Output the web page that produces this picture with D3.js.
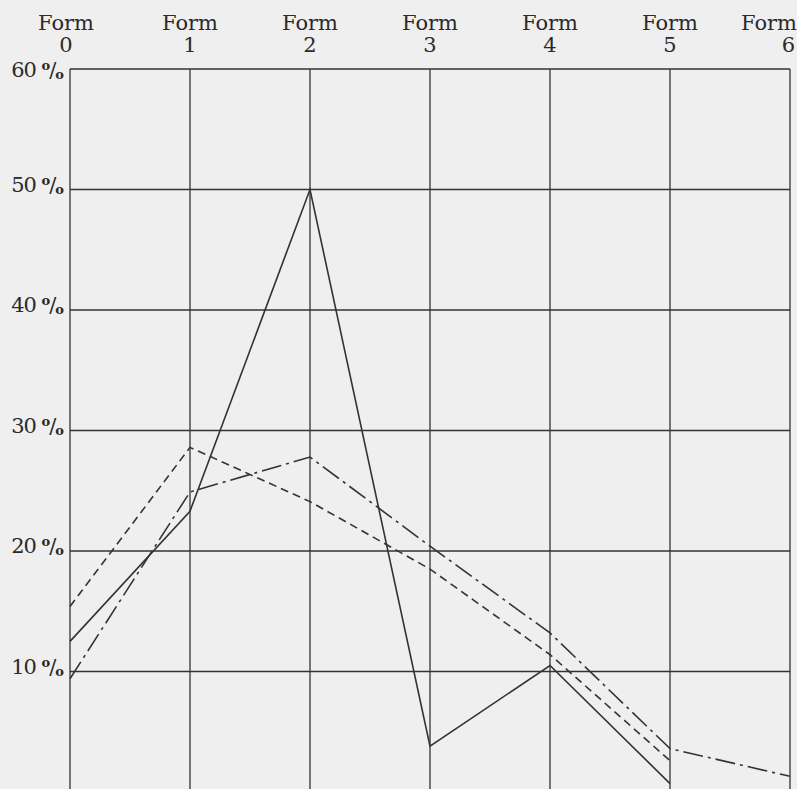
<!DOCTYPE html>
<html>
<head>
<meta charset="utf-8">
<script src="https://cdn.jsdelivr.net/npm/d3@7"></script>
<style>
  body { margin: 0; background: #efefef; }
  svg { display: block; }
</style>
</head>
<body>
<div id="vis"></div>
<script>
// data (percent per form)
const forms = [0, 1, 2, 3, 4, 5, 6]
const yTicks = [10, 20, 30, 40, 50, 60]
const solidValues = [12.5, 23.3, 50, 3.8, 10.5, 0.7]
const dashedValues = [15.4, 28.6, 24.1, 18.5, 11.4, 2.6]
const dashDotValues = [9.4, 24.9, 27.8, 20.4, 13.2, 3.6, 1.3]

const width = 797, height = 789
const ink = '#333'

let x = d3.scaleLinear().domain([0, 6]).range([70, 790])
let y = d3.scaleLinear().domain([0, 60]).range([792, 69])

let svg = d3.select('#vis')
    .append('svg')
    .attr('width', width)
    .attr('height', height)

svg.append('rect')
    .attr('width', width)
    .attr('height', height)
    .attr('fill', '#efefef')

// grid
svg.append('g')
    .selectAll('line')
    .data(forms)
    .enter()
    .append('line')
        .attr('x1', d => x(d))
        .attr('x2', d => x(d))
        .attr('y1', y(60))
        .attr('y2', y(0))
        .attr('stroke', ink)
        .attr('stroke-width', 1.3)

svg.append('g')
    .selectAll('line')
    .data(yTicks)
    .enter()
    .append('line')
        .attr('x1', x(0))
        .attr('x2', x(6))
        .attr('y1', d => y(d))
        .attr('y2', d => y(d))
        .attr('stroke', ink)
        .attr('stroke-width', 1.3)

// top labels "Form n"
let labels = svg.append('g')
    .attr('font-family', 'DejaVu Serif, serif')
    .attr('font-size', '21px')
    .attr('fill', '#2a2a2a')

labels.selectAll('.form-label')
    .data(forms)
    .enter()
    .append('text')
        .attr('class', 'form-label')
        .attr('x', d => d === 6 ? 797 : x(d) - (d === 0 ? 4 : 0))
        .attr('y', 30)
        .attr('text-anchor', d => d === 6 ? 'end' : 'middle')
        .text('Form')

labels.selectAll('.form-num')
    .data(forms)
    .enter()
    .append('text')
        .attr('class', 'form-num')
        .attr('x', d => d === 6 ? 795 : x(d) - (d === 0 ? 4 : 0))
        .attr('y', 52)
        .attr('text-anchor', d => d === 6 ? 'end' : 'middle')
        .text(d => d)

// left labels with old style per-cent sign
let yLab = labels.selectAll('.y-label')
    .data(yTicks)
    .enter()
    .append('text')
        .attr('class', 'y-label')
        .attr('x', 63)
        .attr('y', d => y(d) + (d === 60 ? 8 : 2))
        .attr('text-anchor', 'end')
        .attr('letter-spacing', '-1')

yLab.append('tspan').text(d => d + ' ')
yLab.append('tspan')
    .attr('font-size', '13px')
    .attr('font-weight', 'bold')
    .attr('dy', -7)
    .text('o')
yLab.append('tspan')
    .attr('dy', 7)
    .text('/')
yLab.append('tspan')
    .attr('font-size', '13px')
    .attr('font-weight', 'bold')
    .attr('dy', 2)
    .text('o')

// series lines
let line = d3.line()
    .x((d, i) => x(i))
    .y(d => y(d))

svg.append('path')
    .datum(solidValues)
    .attr('d', line)
    .attr('fill', 'none')
    .attr('stroke', ink)
    .attr('stroke-width', 1.6)

svg.append('path')
    .datum(dashedValues)
    .attr('d', line)
    .attr('fill', 'none')
    .attr('stroke', ink)
    .attr('stroke-width', 1.6)
    .attr('stroke-dasharray', '8 5')

svg.append('path')
    .datum(dashDotValues)
    .attr('d', line)
    .attr('fill', 'none')
    .attr('stroke', ink)
    .attr('stroke-width', 1.6)
    .attr('stroke-dasharray', '20 5 3 5')
</script>
</body>
</html>
